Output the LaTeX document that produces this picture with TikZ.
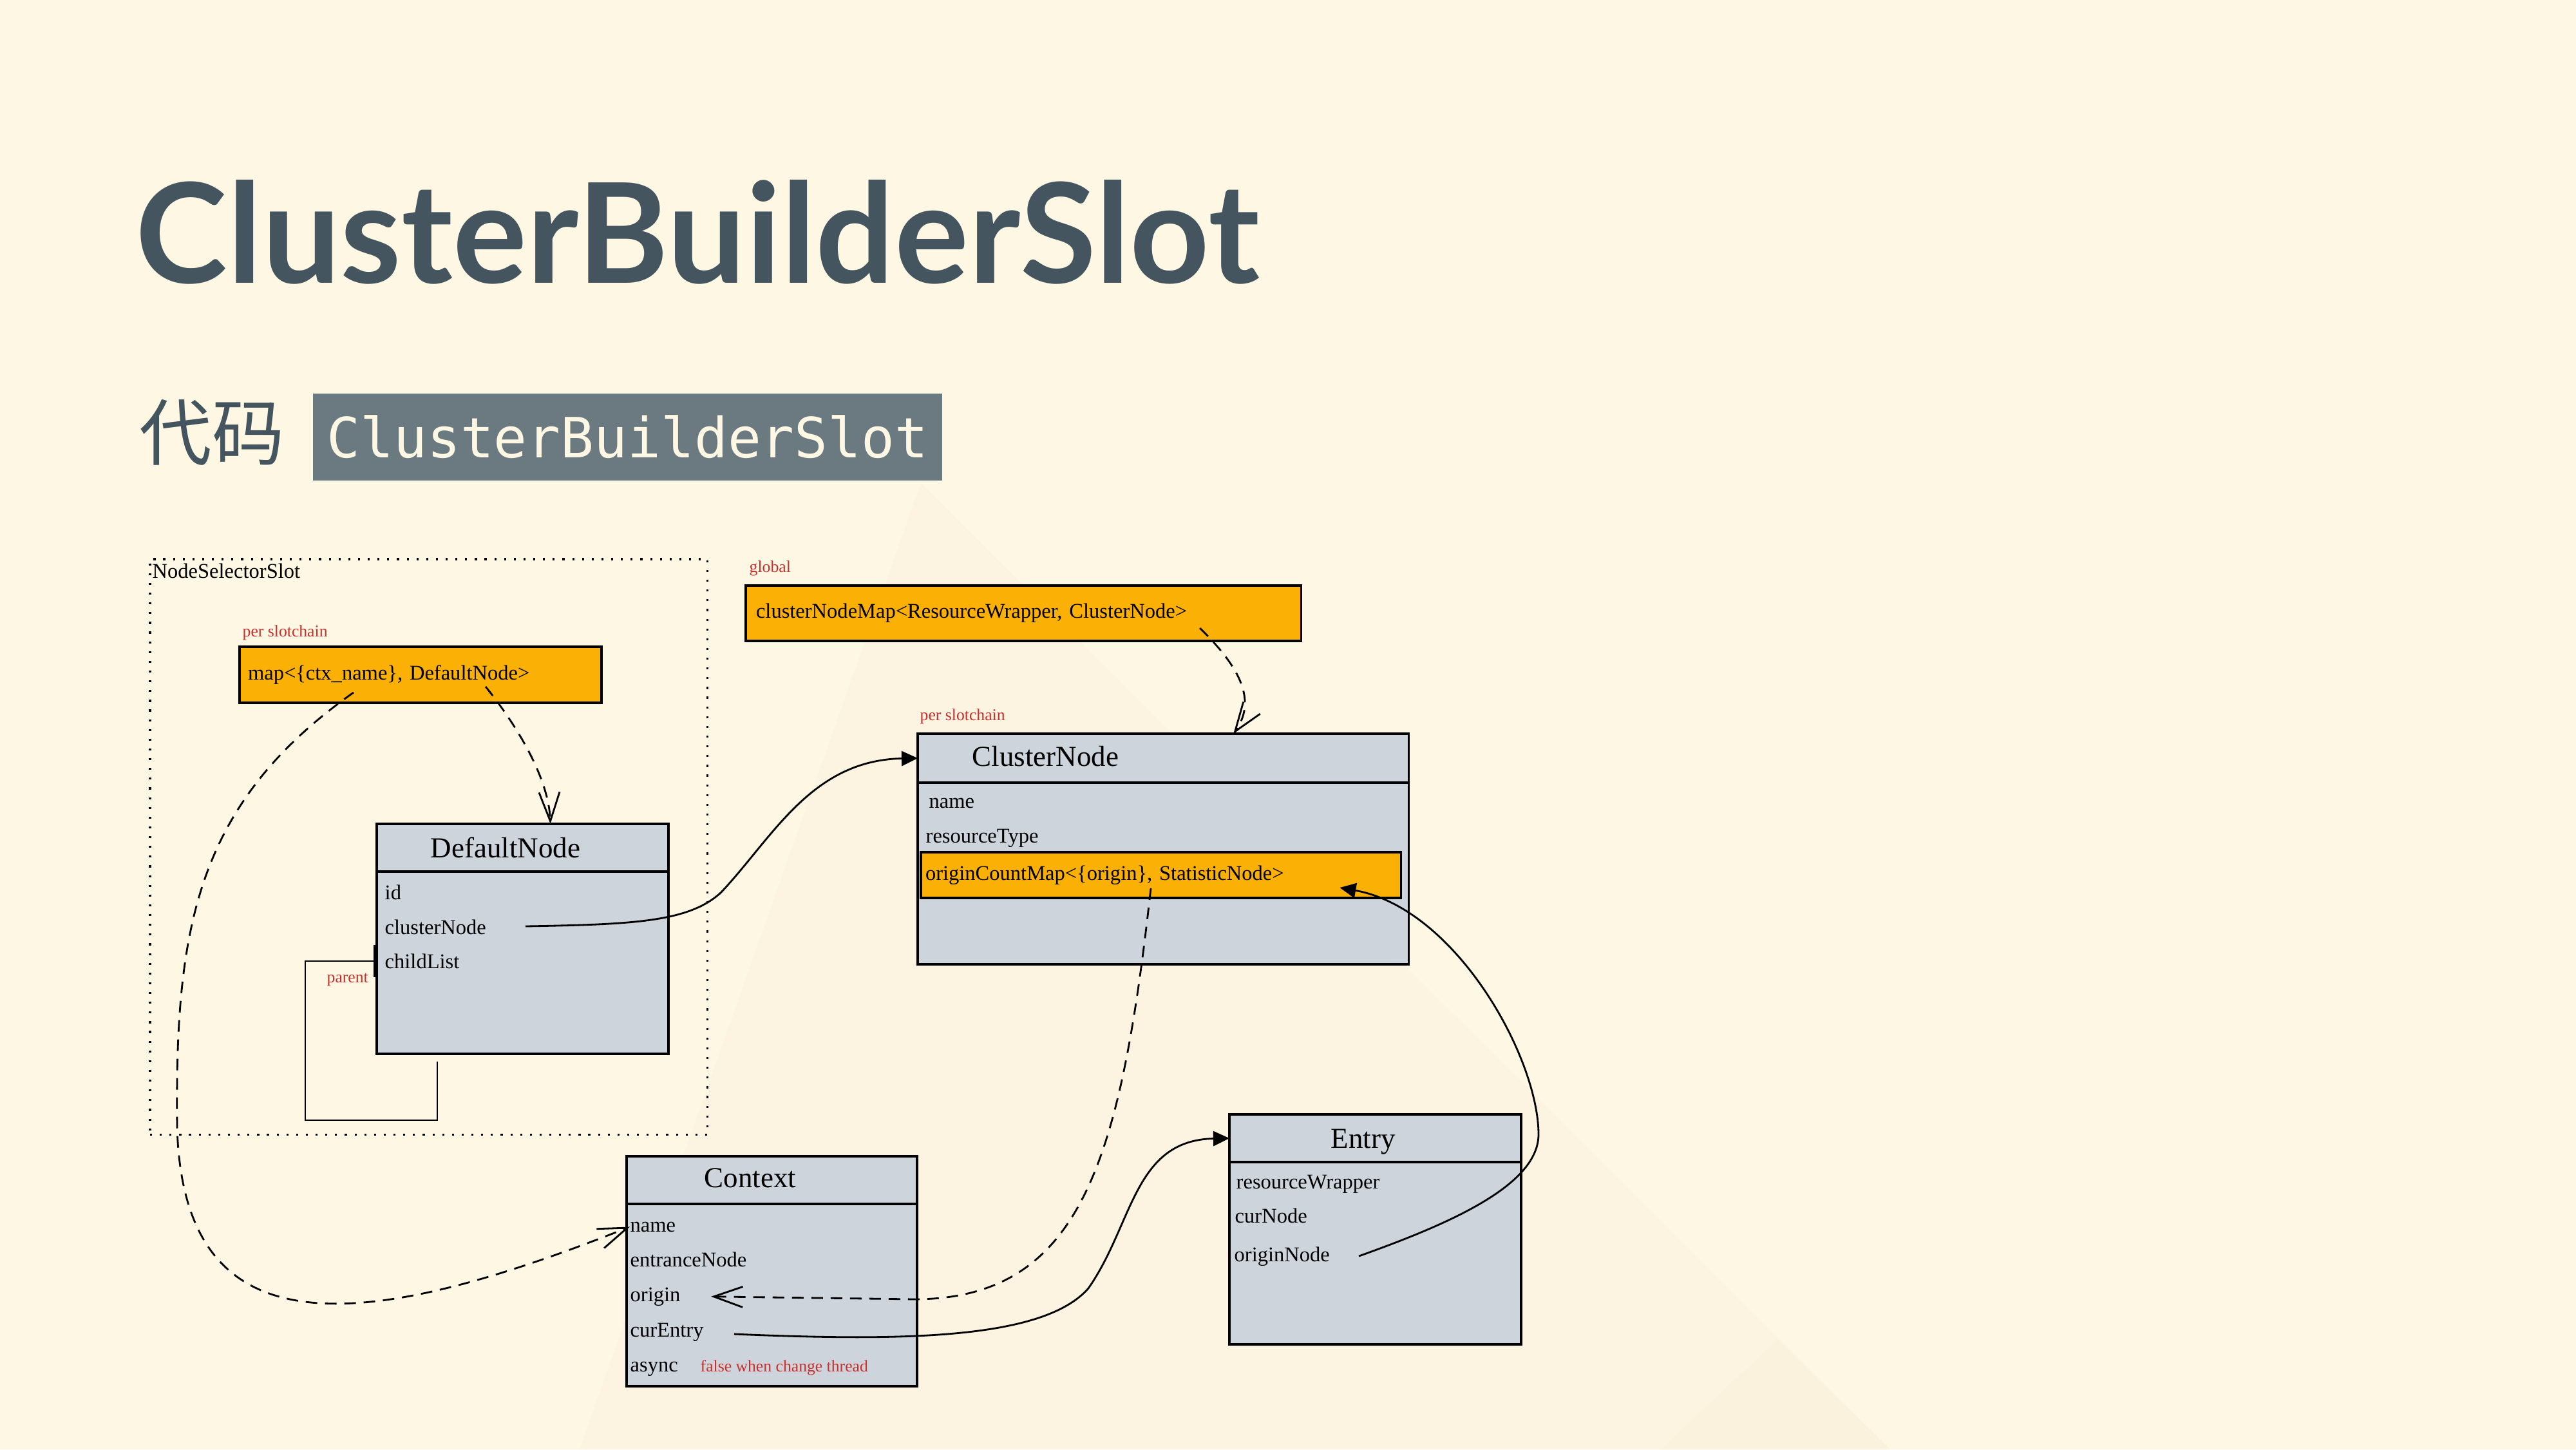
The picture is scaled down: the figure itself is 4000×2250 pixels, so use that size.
\documentclass[tikz,border=0pt]{standalone}
\usepackage{fontspec}
\setmainfont{Liberation Serif}
\newfontfamily\latofont{Lato}
\newfontfamily\codefont{DejaVu Sans Mono}
\newfontfamily\cjk{Noto Sans CJK SC}
\usetikzlibrary{positioning,arrows.meta}

\definecolor{paper}{HTML}{FEF7E4}
\definecolor{paperdark}{HTML}{FCF4E0}
\definecolor{paperdarker}{HTML}{FBF2DD}
\definecolor{slate}{HTML}{44555F}
\definecolor{codebg}{HTML}{6B7A80}
\definecolor{classfill}{HTML}{CDD4DC}
\definecolor{mapfill}{HTML}{FAB005}
\definecolor{notered}{HTML}{C9302C}

\tikzset{
    classhead/.style={draw, fill=classfill, line width=1.1pt, outer sep=0pt, anchor=north west, minimum height=0.74cm},
    classbody/.style={draw, fill=classfill, line width=1.1pt, outer sep=0pt},
    classname/.style={anchor=base west, inner sep=0pt, font=\fontsize{12.8}{15}\selectfont},
    field/.style={anchor=base west, inner sep=0pt, font=\fontsize{9.25}{11}\selectfont},
    note/.style={anchor=base west, inner sep=0pt, text=notered, font=\fontsize{7.3}{9}\selectfont},
    mapbox/.style={draw, fill=mapfill, line width=1.1pt, outer sep=0pt, anchor=north west, align=left, font=\fontsize{9.25}{11}\selectfont},
    slotframe/.style={draw, line width=0.9pt, dash pattern=on 0.9pt off 3.4pt, anchor=north west, outer sep=0pt},
    ref/.style={line width=0.8pt, dash pattern=on 1.8mm off 1.2mm, -{Straight Barb[length=4.5mm,width=3.2mm]}},
    link/.style={line width=0.8pt, -{Triangle[length=2.5mm,width=2.3mm]}}
}

\begin{document}
\begin{tikzpicture}[x=0.01cm, y=-0.01cm]
    \useasboundingbox (0,0) rectangle (4000,2250);
    \fill[paper] (0,0) rectangle (4000,2250);
    \fill[paperdark] (1430,750) -- (2935,2250) -- (900,2250) -- cycle;
    \fill[paperdarker] (2760,2080) -- (2935,2250) -- (2579,2250) -- cycle;

    % heading
    \node[anchor=base west, inner sep=0pt, text=slate, font=\latofont\bfseries\fontsize{61.3}{62}\selectfont] (title) at (210,439) {ClusterBuilderSlot};
    \node[anchor=west, inner sep=0pt, text=slate, font=\cjk\fontsize{32}{34}\selectfont] (sub) at (216,671) {代码};
    \node[anchor=north west, fill=codebg, minimum width=9.77cm, minimum height=1.35cm, text=paper, font=\codefont\fontsize{24.5}{26}\selectfont] (code) at (485,610) {ClusterBuilderSlot};

    % NodeSelectorSlot
    \node[slotframe, minimum width=8.65cm, minimum height=8.93cm] (nss) at (233,868) {};
    \node[field] (nss-name) at (236,897) {NodeSelectorSlot};
    \node[note] (n1) at (376,988) {per slotchain};
    \node[mapbox, text width=5.36cm, inner xsep=0.13cm, minimum height=0.87cm] (smap) at (372,1004) {map<\{ctx\_name\}, DefaultNode>};

    \node[classhead, minimum width=4.53cm] (dn-head) at (585,1279) {};
    \node[classbody, minimum width=4.53cm, minimum height=2.83cm, below=0pt of dn-head] (dn-body) {};
    \node[classname] (dn-name) at (668,1331) {DefaultNode};
    \node[field] (dn-f1) at (597,1396) {id};
    \node[field] (dn-f2) at (597,1450) {clusterNode};
    \node[field] (dn-f3) at (597,1503) {childList};
    \node[note] (n4) at (507,1525) {parent};

    % global
    \node[note] (n2) at (1163,888) {global};
    \node[mapbox, text width=8.30cm, inner xsep=0.16cm, minimum height=0.86cm] (gmap) at (1158,909) {clusterNodeMap<ResourceWrapper, ClusterNode>};

    % ClusterNode
    \node[note] (n3) at (1428,1118) {per slotchain};
    \node[classhead, minimum width=7.62cm, minimum height=0.76cm] (cn-head) at (1425,1139) {};
    \node[classbody, minimum width=7.62cm, minimum height=2.82cm, below=0pt of cn-head] (cn-body) {};
    \node[classname] (cn-name) at (1509,1189) {ClusterNode};
    \node[field] (cn-f1) at (1442,1254) {name};
    \node[field] (cn-f2) at (1437,1308) {resourceType};
    \node[mapbox, text width=7.31cm, inner xsep=0.07cm, minimum height=0.71cm] (cmap) at (1430,1323) {originCountMap<\{origin\}, StatisticNode>};

    % Context
    \node[classhead, minimum width=4.51cm] (ctx-head) at (973,1795) {};
    \node[classbody, minimum width=4.51cm, minimum height=2.83cm, below=0pt of ctx-head] (ctx-body) {};
    \node[classname] (ctx-name) at (1093,1843) {Context};
    \node[field] (ctx-f1) at (978,1912) {name};
    \node[field] (ctx-f2) at (978,1966) {entranceNode};
    \node[field] (ctx-f3) at (978,2020) {origin};
    \node[field] (ctx-f4) at (978,2075) {curEntry};
    \node[field] (ctx-f5) at (978,2129) {async};
    \node[note] (n5) at (1087,2129) {false when change thread};

    % Entry
    \node[classhead, minimum width=4.53cm] (en-head) at (1909,1730) {};
    \node[classbody, minimum width=4.53cm, minimum height=2.83cm, below=0pt of en-head] (en-body) {};
    \node[classname] (en-name) at (2066,1782) {Entry};
    \node[field] (en-f1) at (1919,1845) {resourceWrapper};
    \node[field] (en-f2) at (1917,1898) {curNode};
    \node[field] (en-f3) at (1916,1958) {originNode};

    % connectors
    \coordinate (smap-a) at (754,1066);
    \coordinate (smap-b) at (549,1075);
    \coordinate (gmap-a) at (1863,975);
    \coordinate (cmap-a) at (1787,1379);
    \coordinate (dn-a) at (816,1438);
    \coordinate (dn-loop) at (679,1648);
    \coordinate (ctx-a) at (1140,2071);
    \coordinate (en-a) at (2110,1950);

    \draw[ref] (smap-a) .. controls (790,1110) and (852,1200) .. ([xshift=4.3mm]dn-head.north);
    \draw[ref] (smap-b) .. controls (300,1250) and (272,1450) .. (275,1750) .. controls (285,2100) and (560,2070) .. (ctx-f1.west);
    \draw[ref] (gmap-a) .. controls (1930,1040) and (1950,1090) .. ([xshift=10.9mm]cn-head.north);
    \draw[ref] (cmap-a) .. controls (1740,1800) and (1680,2015) .. (1422,2017) -- ([xshift=4.7mm]ctx-f3.east);
    \draw[line width=0.8pt, -{Bar[width=5mm]}] (dn-loop) |- (474,1739) |- ([xshift=-4pt]dn-f3.west);

    \draw[link] (dn-a) .. controls (980,1435) and (1070,1432) .. (1120,1385) .. controls (1200,1300) and (1260,1180) .. (cn-head.west);
    \draw[link] (ctx-a) .. controls (1400,2082) and (1620,2080) .. (1690,2000) .. controls (1760,1900) and (1760,1770) .. (en-head.west);
    \draw[link] (en-a) .. controls (2250,1900) and (2390,1840) .. (2389,1760) .. controls (2388,1640) and (2260,1410) .. ([xshift=-9.5mm,yshift=1.6mm]cmap.south east);
\end{tikzpicture}
\end{document}
